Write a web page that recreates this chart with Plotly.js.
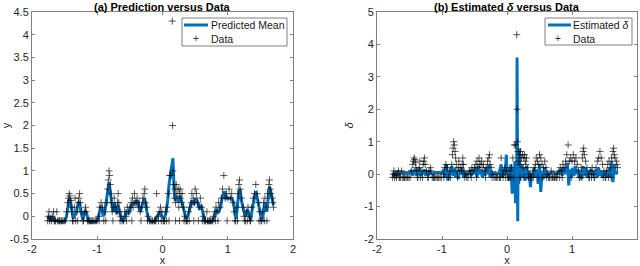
<!DOCTYPE html>
<html>
<head>
<meta charset="utf-8">
<script src="https://cdn.plot.ly/plotly-3.0.1.min.js"></script>
<style>html,body{margin:0;padding:0;background:#fff}#chart{width:640px;height:266px}</style>
</head>
<body>
<div id="chart"></div>
<script>
// Observed data (same in both panels)
const dataX = [-1.76,-1.75,-1.74,-1.73,-1.72,-1.70,-1.69,-1.67,-1.66,-1.64,-1.62,-1.61,-1.59,-1.57,-1.55,-1.53,-1.51,-1.49,
  -1.47,-1.45,-1.44,-1.43,-1.42,-1.41,-1.40,-1.39,-1.37,-1.35,-1.34,
  -1.33,-1.31,-1.29,-1.28,-1.27,-1.26,-1.24,-1.22,-1.20,-1.18,-1.17,-1.15,-1.13,-1.11,-1.09,-1.07,-1.05,-1.03,-1.01,
  -0.98,-0.96,-0.94,-0.92,-0.90,-0.88,
  -0.85,-0.84,-0.83,-0.82,-0.81,-0.80,-0.79,-0.78,-0.77,-0.75,-0.74,-0.72,-0.70,-0.69,-0.68,-0.67,-0.66,-0.64,-0.62,-0.60,-0.58,-0.56,-0.54,-0.52,
  -0.50,-0.48,-0.46,-0.45,-0.43,-0.42,-0.40,-0.39,-0.37,-0.36,-0.34,-0.32,-0.30,-0.28,-0.27,-0.26,-0.24,-0.22,-0.20,-0.18,-0.16,-0.09,
  -0.12,-0.10,-0.07,-0.05,-0.03,-0.01,0.01,0.03,0.05,0.07,
  0.09,0.11,0.13,0.15,0.155,0.16,0.17,0.18,0.19,0.20,0.21,0.22,0.24,0.25,0.26,0.27,0.28,0.29,0.30,0.32,0.34,0.36,0.38,0.40,0.42,0.44,0.45,0.47,0.49,0.50,0.52,0.54,0.56,0.58,0.60,0.62,0.64,0.66,0.68,0.70,0.72,0.74,0.76,0.78,0.80,0.82,0.84,0.86,0.88,0.90,0.92,0.94,0.96,0.98,1.00,1.02,1.04,1.06,1.08,1.10,1.12,1.14,1.16,1.17,1.18,1.19,1.21,1.23,1.25,1.27,1.29,1.31,1.33,1.35,1.37,1.39,1.41,1.43,1.45,1.47,1.49,1.51,1.53,1.55,1.57,1.59,1.61,1.63,1.64,1.65,1.66,1.68,1.69,1.70,
  -1.65,-1.58,-1.38,-1.30,-1.21,-1.12,-0.97,-0.87,-0.76,-0.65,-0.55,-0.47,-0.33,-0.23,-0.15,-0.11,-0.06,-0.02,0.02,0.06,0.10,0.20,0.26,0.33,0.37,0.41,0.48,0.55,0.61,0.65,0.69,0.73,0.77,0.81,0.85,0.99,1.11,1.15,1.26,1.30,1.34,1.48,1.52,1.56,1.60];
const dataY = [-0.1,0.0,0.1,-0.1,-0.05,-0.1,0.0,0.1,-0.1,-0.1,0.1,-0.1,-0.1,-0.1,-0.1,-0.1,-0.1,-0.1,
  0.1,0.3,0.4,0.5,0.45,0.35,0.2,0.1,-0.1,0.2,0.4,
  -0.1,0.1,0.3,0.4,0.5,0.3,0.1,-0.1,0.1,0.2,0.1,-0.1,-0.1,-0.1,-0.1,-0.1,-0.1,-0.1,-0.1,
  0.0,0.2,0.3,0.2,-0.1,0.1,
  0.3,0.6,0.8,1.0,0.9,0.7,0.5,0.3,0.1,0.2,0.4,0.2,0.1,0.3,0.5,0.3,0.1,0.0,-0.1,-0.1,0.1,0.0,0.2,0.1,
  0.2,0.3,0.4,0.2,0.5,0.3,0.3,0.4,0.2,0.3,0.1,0.2,0.4,0.5,0.6,0.3,0.2,0.0,-0.1,-0.1,-0.1,0.5,
  -0.1,-0.1,0.0,0.1,0.2,0.1,-0.1,-0.1,0.1,0.2,
  0.5,0.9,0.9,4.3,2.0,1.0,0.7,0.4,0.6,0.3,0.7,0.5,0.6,0.2,0.5,0.6,0.4,0.3,0.5,0.2,0.0,-0.1,-0.1,0.1,0.2,0.3,0.5,0.4,0.3,0.6,0.5,0.3,0.2,0.4,0.2,0.0,-0.1,-0.1,0.1,-0.1,-0.1,-0.1,-0.1,0.0,0.1,0.2,0.1,0.3,0.2,0.4,0.6,0.9,0.4,0.5,0.4,0.6,0.4,0.5,0.3,0.1,-0.1,0.2,0.5,0.7,0.8,0.6,0.4,0.2,0.0,-0.1,0.1,0.2,0.0,-0.1,0.2,0.4,0.5,0.7,0.5,0.3,0.1,-0.1,0.1,0.3,0.4,0.2,0.5,0.7,0.8,0.6,0.5,0.4,0.3,0.2,
  -0.1,-0.1,-0.1,-0.1,-0.1,-0.1,-0.1,-0.1,-0.1,-0.1,-0.1,-0.1,-0.1,-0.1,-0.1,-0.1,-0.1,-0.1,-0.1,-0.1,-0.1,-0.1,-0.1,-0.1,-0.1,-0.1,-0.1,-0.1,-0.1,-0.1,-0.1,-0.1,-0.1,-0.1,-0.1,-0.1,-0.1,-0.1,-0.1,-0.1,-0.1,-0.1,-0.1,-0.1,-0.1];

// Predicted mean (panel a)
const meanX = [-1.76,-1.74,-1.72,-1.70,-1.68,-1.66,-1.62,-1.58,-1.54,-1.50,-1.47,-1.45,-1.43,-1.41,-1.39,-1.37,-1.35,-1.32,-1.29,-1.27,-1.25,-1.22,-1.20,-1.18,-1.16,-1.14,-1.10,-1.05,-1.01,-0.98,-0.95,-0.93,-0.91,-0.89,-0.86,-0.84,-0.82,-0.80,-0.78,-0.76,-0.74,-0.72,-0.70,-0.68,-0.66,-0.63,-0.60,-0.57,-0.55,-0.52,-0.49,-0.46,-0.44,-0.42,-0.40,-0.38,-0.36,-0.34,-0.31,-0.28,-0.26,-0.24,-0.21,-0.17,-0.13,-0.10,-0.07,-0.04,-0.01,0.02,0.05,0.08,0.10,0.12,0.14,0.16,0.17,0.18,0.20,0.22,0.24,0.27,0.30,0.33,0.36,0.39,0.42,0.45,0.48,0.51,0.54,0.57,0.59,0.62,0.65,0.69,0.73,0.77,0.80,0.83,0.86,0.89,0.92,0.95,0.97,1.00,1.03,1.06,1.09,1.11,1.13,1.15,1.17,1.19,1.21,1.24,1.27,1.30,1.32,1.35,1.38,1.41,1.43,1.46,1.49,1.52,1.54,1.56,1.58,1.60,1.62,1.64,1.66,1.68,1.70];
const meanY = [-0.05,0.0,-0.08,-0.05,0.0,-0.08,-0.1,-0.12,-0.13,-0.12,0.0,0.2,0.4,0.35,0.1,-0.05,0.0,0.1,0.3,0.3,0.1,-0.08,0.05,0.12,0.05,-0.1,-0.13,-0.13,-0.12,0.0,0.2,0.18,0.0,0.05,0.3,0.55,0.75,0.55,0.25,0.1,0.3,0.15,0.05,0.25,0.15,-0.05,-0.1,0.0,0.1,0.05,0.2,0.3,0.25,0.35,0.3,0.35,0.2,0.1,0.25,0.4,0.3,0.1,-0.08,-0.12,-0.12,-0.05,0.03,0.1,0.0,-0.05,0.05,0.35,0.7,0.9,1.1,1.28,0.9,0.5,0.35,0.45,0.3,0.45,0.3,0.1,-0.05,0.0,0.15,0.35,0.25,0.4,0.3,0.15,0.25,0.05,-0.1,-0.12,-0.13,-0.1,0.0,0.15,0.1,0.2,0.45,0.55,0.4,0.4,0.4,0.4,0.3,0.05,-0.05,0.3,0.55,0.6,0.35,0.15,0.0,0.15,0.05,-0.08,0.2,0.45,0.55,0.35,0.1,-0.1,0.0,0.25,0.3,0.1,0.4,0.65,0.55,0.35,0.25];

// Estimated delta (panel b)
const deltaX = [-1.76,-1.74,-1.72,-1.70,-1.68,-1.66,-1.64,-1.62,-1.58,-1.54,-1.50,-1.47,-1.45,-1.43,-1.41,-1.39,-1.37,-1.35,-1.33,-1.31,-1.29,-1.27,-1.25,-1.22,-1.20,-1.18,-1.15,-1.12,-1.08,-1.04,-1.00,-0.97,-0.95,-0.93,-0.91,-0.89,-0.87,-0.85,-0.83,-0.81,-0.79,-0.77,-0.75,-0.73,-0.71,-0.69,-0.67,-0.65,-0.62,-0.60,-0.57,-0.55,-0.53,-0.50,-0.48,-0.46,-0.44,-0.42,-0.40,-0.38,-0.36,-0.34,-0.32,-0.30,-0.28,-0.26,-0.24,-0.21,-0.18,-0.15,-0.12,-0.09,-0.07,-0.05,-0.03,-0.01,0.00,0.02,0.04,0.06,0.08,0.10,0.11,0.12,0.13,0.14,0.15,0.155,0.16,0.165,0.17,0.18,0.19,0.20,0.22,0.24,0.26,0.28,0.30,0.32,0.34,0.36,0.38,0.40,0.42,0.44,0.46,0.48,0.50,0.52,0.54,0.56,0.58,0.60,0.62,0.65,0.68,0.72,0.76,0.80,0.83,0.85,0.87,0.89,0.91,0.93,0.95,0.97,0.99,1.01,1.03,1.05,1.07,1.09,1.11,1.13,1.15,1.17,1.19,1.21,1.23,1.25,1.27,1.29,1.31,1.33,1.35,1.37,1.39,1.41,1.43,1.45,1.47,1.49,1.51,1.53,1.55,1.57,1.59,1.61,1.63,1.65,1.67,1.69,1.71];
const deltaY = [0.05,-0.05,0.08,0.0,0.05,-0.03,0.05,0.05,0.05,0.05,0.04,0.12,-0.05,0.1,0.15,-0.05,0.05,0.2,-0.05,0.1,0.0,0.15,-0.05,0.1,0.0,0.05,0.0,0.05,0.05,0.06,0.05,0.15,-0.1,0.3,-0.2,0.1,0.0,0.25,-0.05,0.2,-0.1,0.1,-0.15,0.15,0.0,0.2,-0.1,0.05,-0.05,0.05,0.1,-0.05,0.1,0.05,0.2,-0.1,0.25,0.0,0.15,-0.1,0.1,-0.05,0.2,0.0,0.3,-0.1,0.1,0.0,0.05,0.0,0.05,0.3,-0.1,0.15,-0.05,0.6,0.0,0.2,-0.2,0.3,-0.6,0.2,-0.5,0.4,-0.9,0.3,-0.6,3.6,-0.5,-1.45,0.5,-0.3,0.8,-0.2,0.3,-0.1,0.2,-0.2,0.25,-0.15,0.1,-0.4,0.05,-0.1,0.2,-0.1,0.15,-0.3,0.3,-0.55,0.1,-0.15,0.2,-0.1,0.05,0.0,0.05,0.05,0.03,0.05,0.15,-0.05,0.2,0.0,0.2,0.35,-0.35,0.15,-0.1,0.2,-0.05,0.25,0.0,0.15,-0.1,0.1,-0.15,0.25,-0.05,0.2,-0.1,0.1,0.0,0.15,-0.05,0.1,0.0,0.15,-0.1,0.2,-0.05,0.1,-0.1,0.05,0.0,0.1,-0.1,0.2,-0.1,0.4,-0.25,0.3,0.0,0.05,0.05];

// Tick labels
const xTicks = [-2, -1, 0, 1, 2];
const xTickText = ["-2", "-1", "0", "1", "2"];
const yTicksA = [-0.5, 0, 0.5, 1, 1.5, 2, 2.5, 3, 3.5, 4, 4.5];
const yTickTextA = ["-0.5", "0", "0.5", "1", "1.5", "2", "2.5", "3", "3.5", "4", "4.5"];
const yTicksB = [-2, -1, 0, 1, 2, 3, 4, 5];
const yTickTextB = ["-2", "-1", "0", "1", "2", "3", "4", "5"];

// Legend labels
const legendA = ["Predicted Mean", "Data"];
const legendB = ["Estimated <i>δ</i>", "Data"];

const FONT = "Liberation Sans, Arial, Helvetica, sans-serif";
const TXT = "#262626";
const BLUE = "#0072BD";
const W = 640, H = 266;
const mk = {symbol: "cross-thin", size: 5, color: "rgba(0,0,0,0.65)", line: {width: 1, color: "rgba(0,0,0,0.65)"}};

const traces = [
  {x: meanX, y: meanY, type: "scatter", mode: "lines", name: legendA[0], line: {color: BLUE, width: 3}, xaxis: "x", yaxis: "y"},
  {x: dataX, y: dataY, type: "scatter", mode: "markers", name: legendA[1], marker: mk, xaxis: "x", yaxis: "y"},
  {x: deltaX, y: deltaY, type: "scatter", mode: "lines", name: legendB[0], line: {color: BLUE, width: 3}, xaxis: "x2", yaxis: "y2"},
  {x: dataX, y: dataY, type: "scatter", mode: "markers", name: legendB[1], marker: mk, xaxis: "x2", yaxis: "y2"}
];

const axBase = {
  showline: true, linecolor: "#808080", linewidth: 1, mirror: "ticks",
  ticks: "inside", ticklen: 3, tickwidth: 1, tickcolor: "#808080",
  showgrid: false, zeroline: false, tickfont: {family: FONT, size: 11, color: TXT},
  fixedrange: true
};
const px = v => v / W;
const py = v => 1 - v / H;

function legendShapes(x0, x1, y0, y1, lineX0, lineX1) {
  return [
    {type: "rect", xref: "paper", yref: "paper", x0: px(x0), x1: px(x1), y0: py(y1), y1: py(y0), line: {color: "#808080", width: 1}, fillcolor: "#fff", layer: "above"},
    {type: "line", xref: "paper", yref: "paper", x0: px(lineX0), x1: px(lineX1), y0: py(25), y1: py(25), line: {color: BLUE, width: 3}, layer: "above"}
  ];
}
function legendAnn(textX, plusX, labels) {
  return [
    {text: labels[0], xref: "paper", yref: "paper", x: px(textX), y: py(25), xanchor: "left", yanchor: "middle", showarrow: false, font: {family: FONT, size: 10.5, color: "#1a1a1a"}},
    {text: "+", xref: "paper", yref: "paper", x: px(plusX), y: py(39), xanchor: "center", yanchor: "middle", showarrow: false, font: {family: FONT, size: 10, color: "#333333"}},
    {text: labels[1], xref: "paper", yref: "paper", x: px(textX), y: py(39), xanchor: "left", yanchor: "middle", showarrow: false, font: {family: FONT, size: 10.5, color: "#1a1a1a"}}
  ];
}

const yDom = [27/266, 254/266];
const layout = {
  width: W, height: H,
  margin: {l: 0, r: 0, t: 0, b: 0},
  paper_bgcolor: "#fff", plot_bgcolor: "#fff",
  font: {family: FONT, size: 11, color: TXT},
  showlegend: false,
  xaxis: Object.assign({}, axBase, {domain: [32/640, 293/640], range: [-2, 2], tickvals: xTicks, ticktext: xTickText, anchor: "y",
    title: {text: "x", font: {family: FONT, size: 11, color: TXT}, standoff: 2}}),
  yaxis: Object.assign({}, axBase, {domain: yDom, range: [-0.5, 4.5], tickvals: yTicksA, ticktext: yTickTextA, anchor: "x",
    title: {text: "y", font: {family: FONT, size: 11, color: TXT}, standoff: 6}}),
  xaxis2: Object.assign({}, axBase, {domain: [377/640, 637/640], range: [-2, 2], tickvals: xTicks, ticktext: xTickText, anchor: "y2",
    title: {text: "x", font: {family: FONT, size: 11, color: TXT}, standoff: 2}}),
  yaxis2: Object.assign({}, axBase, {domain: yDom, range: [-2, 5], tickvals: yTicksB, ticktext: yTickTextB, anchor: "x2",
    title: {text: "<i>δ</i>", font: {family: FONT, size: 11, color: TXT}, standoff: 8}}),
  shapes: [].concat(legendShapes(182, 287, 18, 46, 184, 208), legendShapes(545, 632, 18, 45, 548, 571)),
  annotations: [
    {text: "<b>(a) Prediction versus Data</b>", xref: "paper", yref: "paper", x: 162.5/640, y: 1.005, xanchor: "center", yanchor: "top", showarrow: false, font: {family: FONT, size: 11, color: "#000"}},
    {text: "<b>(b) Estimated <i>δ</i> versus Data</b>", xref: "paper", yref: "paper", x: 507/640, y: 1.005, xanchor: "center", yanchor: "top", showarrow: false, font: {family: FONT, size: 11, color: "#000"}}
  ].concat(legendAnn(209, 196, legendA), legendAnn(571, 558, legendB))
};

Plotly.newPlot("chart", traces, layout, {staticPlot: true, displayModeBar: false});
</script>
</body>
</html>
